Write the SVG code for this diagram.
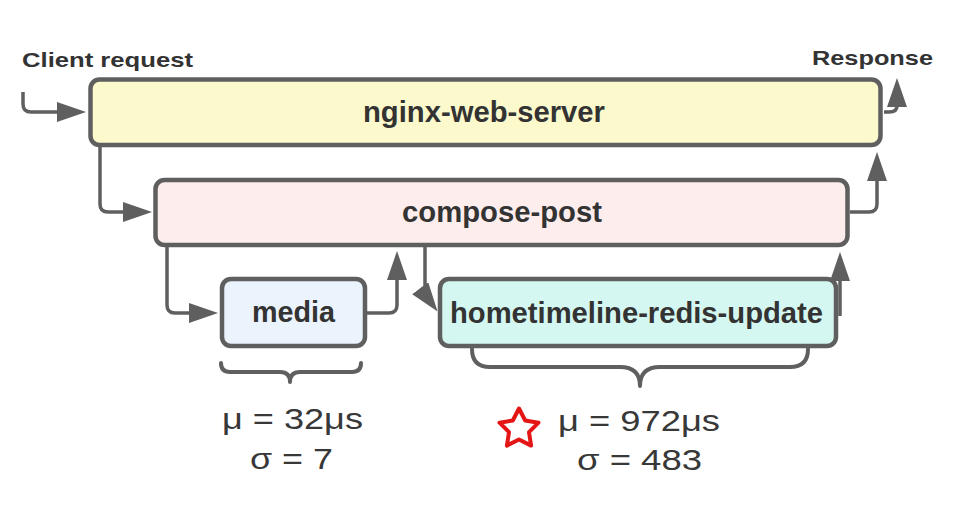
<svg xmlns="http://www.w3.org/2000/svg" width="957" height="518" viewBox="0 0 957 518">
  <style>
    .box { stroke: #5f5f5f; stroke-width: 4.5; }
    .lbl { font-family: "Liberation Sans", Arial, sans-serif; font-weight: bold; font-size: 29px; fill: #333333; text-anchor: middle; }
    .io { font-family: "Liberation Sans", Arial, sans-serif; font-weight: bold; font-size: 20.5px; fill: #333333; }
    .stat { font-family: "Liberation Sans", Arial, sans-serif; font-size: 30px; fill: #383838; text-anchor: middle; }
    .conn { fill: none; stroke: #5f5f5f; stroke-width: 3.5; stroke-linejoin: round; }
    .brace { fill: none; stroke: #5f5f5f; stroke-width: 4; stroke-linecap: round; stroke-linejoin: round; }
  </style>
  <defs>
    <marker id="ah" markerUnits="userSpaceOnUse" viewBox="0 0 29 20" markerWidth="29" markerHeight="20" refX="1" refY="10" orient="auto">
      <path d="M0,0 L29,10 L0,20 z" fill="#5f5f5f"/>
    </marker>
  </defs>
  <rect width="957" height="518" fill="#ffffff"/>

  <g id="connectors">
    <path class="conn" d="M23,92 L23,104 Q23,112 31,112 L58,112" marker-end="url(#ah)"/>
    <path class="conn" d="M884,112 L889,112 Q897,112 897,106" marker-end="url(#ah)"/>
    <path class="conn" d="M850,212 L869,212 Q877,212 877,204 L877,180" marker-end="url(#ah)"/>
    <path class="conn" d="M100,147 L100,204 Q100,212 108,212 L124,212" marker-end="url(#ah)"/>
    <path class="conn" d="M167,247 L167,305 Q167,313 175,313 L190,313" marker-end="url(#ah)"/>
    <path class="conn" d="M367,313 L389,313 Q397,313 397,305 L397,279" marker-end="url(#ah)"/>
    <path class="conn" d="M425,247 L425,292 M420.2,288.2 L420.8,289" marker-end="url(#ah)"/>
    <path class="conn" d="M840,316 L840,280" marker-end="url(#ah)"/>
  </g>

  <g id="nginx-web-server">
    <rect class="box" x="90.5" y="79.5" width="790" height="65.5" rx="9" fill="#fcf9cc"/>
    <text class="lbl" x="484" y="122" textLength="242" lengthAdjust="spacingAndGlyphs">nginx-web-server</text>
  </g>
  <g id="compose-post">
    <rect class="box" x="155.5" y="180" width="692" height="65" rx="9" fill="#fdeeed"/>
    <text class="lbl" x="502" y="222" textLength="200" lengthAdjust="spacingAndGlyphs">compose-post</text>
  </g>
  <g id="media">
    <rect class="box" x="222" y="279" width="143" height="67" rx="9" fill="#ebf3fd"/>
    <text class="lbl" x="293.5" y="322" textLength="83" lengthAdjust="spacingAndGlyphs">media</text>
  </g>
  <g id="hometimeline-redis-update">
    <rect class="box" x="440" y="279" width="396" height="67" rx="9" fill="#d5f7f1"/>
    <text class="lbl" x="636.5" y="323" textLength="373" lengthAdjust="spacingAndGlyphs">hometimeline-redis-update</text>
  </g>

  <g id="io-labels">
    <text class="io" x="22" y="67" textLength="171" lengthAdjust="spacingAndGlyphs">Client request</text>
    <text class="io" x="812" y="65" textLength="121" lengthAdjust="spacingAndGlyphs">Response</text>
  </g>

  <g id="media-stats">
    <path class="brace" d="M221,363 Q221,372 230,372 L280,372 Q290,372 290,382 Q290,372 300,372 L352,372 Q361,372 361,363"/>
    <text class="stat" x="292.5" y="429" textLength="141" lengthAdjust="spacingAndGlyphs">μ = 32μs</text>
    <text class="stat" x="291.5" y="469" textLength="83" lengthAdjust="spacingAndGlyphs">σ = 7</text>
  </g>

  <g id="hometimeline-stats">
    <path class="brace" d="M472,349 Q472,367 490,367 L620,367 Q640,367 640,386 Q640,367 660,367 L790,367 Q808,367 808,349"/>
    <polygon points="519,408.5 525.2,420.5 538.5,422.7 529,432.2 531.1,445.6 519,439.5 506.9,445.6 509,432.2 499.5,422.7 512.8,420.5" fill="none" stroke="#e31515" stroke-width="4" stroke-linejoin="round"/>
    <text class="stat" x="639" y="431" textLength="162" lengthAdjust="spacingAndGlyphs">μ = 972μs</text>
    <text class="stat" x="639.5" y="470" textLength="125" lengthAdjust="spacingAndGlyphs">σ = 483</text>
  </g>
</svg>
